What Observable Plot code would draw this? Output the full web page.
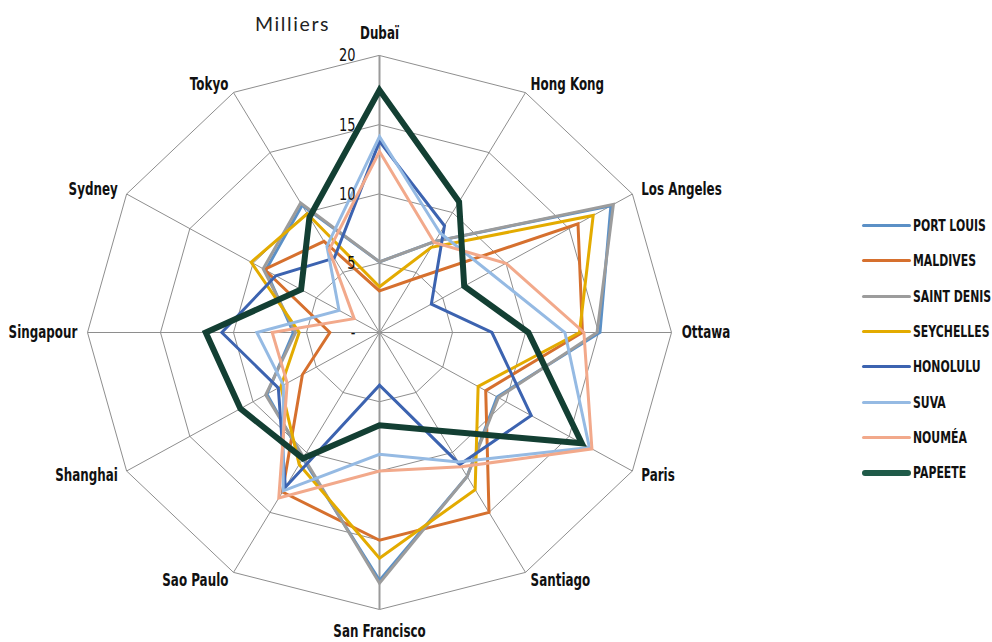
<!DOCTYPE html>
<html>
<head>
<meta charset="utf-8">
<script src="https://cdn.jsdelivr.net/npm/d3@7"></script>
<script src="https://cdn.jsdelivr.net/npm/@observablehq/plot@0.6"></script>
<style>
  html, body { margin: 0; padding: 0; background: #fff; }
  #wrap { position: relative; width: 992px; height: 642px; overflow: hidden; }
  #chart { position: absolute; left: 0; top: 0; }
  #unit { position: absolute; left: 255px; top: 12px; font-family: Lato, "Open Sans", sans-serif; font-weight: 400; font-size: 19.5px; color: #222; letter-spacing: 1.6px; }
  #legend { position: absolute; left: 862px; top: 208px; font-family: "DejaVu Sans", sans-serif; font-weight: bold; font-size: 16.5px; color: #111; }
  .row { display: flex; align-items: center; height: 35.3px; white-space: nowrap; }
  .sw { width: 49px; border-radius: 3px; margin-right: 2px; flex: none; }
  .lt { display: inline-block; transform: scaleX(0.66); transform-origin: left center; }
</style>
</head>
<body>
<div id="wrap">
  <div id="chart"></div>
  <div id="unit">Milliers</div>
  <div id="legend"></div>
</div>
<script>
const categories = ["Dubaï","Hong Kong","Los Angeles","Ottawa","Paris","Santiago","San Francisco","Sao Paulo","Shanghai","Singapour","Sydney","Tokyo"];
const seriesNames = ["PORT LOUIS","MALDIVES","SAINT DENIS","SEYCHELLES","HONOLULU","SUVA","NOUMÉA","PAPEETE"];
const seriesColors = ["#5b90c6","#d6702e","#9c9c9c","#e3ab00","#3c63b0","#95bae3","#f2a98b","#133f33"];
const portLouis  = [5.1, 7.6, 18.3, 15.1, 9.3, 12.0, 17.9, 10.5, 8.9, 5.9, 9.0, 10.6];
const maldives   = [3.0, 4.4, 15.7, 13.9, 8.4, 15.0, 15.0, 13.3, 6.1, 3.4, 9.1, 7.6];
const saintDenis = [5.1, 7.6, 18.5, 14.9, 9.4, 12.0, 18.1, 10.4, 9.0, 5.75, 9.2, 10.8];
const seychelles = [3.3, 7.1, 16.9, 13.7, 7.8, 13.1, 16.3, 11.0, 7.8, 5.5, 10.15, 9.9];
const honolulu   = [13.8, 8.9, 4.1, 7.7, 12.0, 11.0, 3.8, 12.9, 8.0, 10.8, 8.2, 6.2];
const suva       = [14.15, 8.3, 8.7, 12.7, 16.6, 10.8, 8.8, 13.2, 7.6, 8.4, 3.2, 7.2];
const noumea     = [13.07, 7.5, 10.0, 14.0, 16.8, 11.2, 10.0, 13.8, 7.3, 7.35, 2.0, 6.9];
const papeete    = [17.5, 10.9, 6.7, 10.2, 16.0, 8.2, 6.7, 10.5, 11.0, 11.9, 6.2, 9.6];
const tickValues = [0, 5, 10, 15, 20];
const tickLabels = ["-", "5", "10", "15", "20"];

const seriesValues = [portLouis, maldives, saintDenis, seychelles, honolulu, suva, noumea, papeete];
const N = categories.length;
const maxV = 20;
const ang = i => i * 2 * Math.PI / N;

const seriesData = [];
seriesNames.forEach((name, s) => {
  seriesValues[s].forEach((v, i) => {
    seriesData.push({series: name, order: s, x: v * Math.sin(ang(i)), y: v * Math.cos(ang(i))});
  });
});
const gridData = [];
tickValues.filter(t => t > 0).forEach(t => {
  for (let i = 0; i < N; i++) gridData.push({level: t, x: t * Math.sin(ang(i)), y: t * Math.cos(ang(i))});
});
const spokes = categories.map((c, i) => ({i, x: maxV * Math.sin(ang(i)), y: maxV * Math.cos(ang(i))}));
const labels = categories.map((c, i) => {
  const s = Math.sin(ang(i));
  const r = Math.abs(s) < 0.1 ? maxV * 1.08 : maxV * 1.035;
  return {name: c, s, x: r * s, y: r * Math.cos(ang(i))};
});
const ticks = tickValues.map((t, k) => ({x: 0, y: t, label: tickLabels[k]}));

const labelFont = "'DejaVu Sans', sans-serif";
const gridColor = "#8e8e8e";
const catStyle = {x: "x", y: "y", text: "name", fontSize: 17.5, fontWeight: "bold", fontFamily: labelFont, fill: "#111", className: "cat"};

const plot = Plot.plot({
  width: 992,
  height: 642,
  margin: 0,
  x: {domain: [-20, 20], range: [87, 671], axis: null},
  y: {domain: [-20, 20], range: [609, 55], axis: null},
  color: {domain: seriesNames, range: seriesColors},
  marks: [
    Plot.line(gridData, {x: "x", y: "y", z: "level", curve: "linear-closed", stroke: gridColor, strokeWidth: 1}),
    Plot.link(spokes.filter(d => d.i !== 0 && d.i !== 6), {x1: 0, y1: 0, x2: "x", y2: "y", stroke: gridColor, strokeWidth: 1}),
    Plot.link(spokes.filter(d => d.i === 0 || d.i === 6), {x1: 0, y1: 0, x2: "x", y2: "y", stroke: "#9a9a9a", strokeWidth: 2}),
    Plot.line(seriesData.filter(d => d.series !== "PAPEETE"), {x: "x", y: "y", z: "series", stroke: "series", curve: "linear-closed", strokeWidth: 3, strokeLinejoin: "miter", strokeMiterlimit: 6}),
    Plot.line(seriesData.filter(d => d.series === "PAPEETE"), {x: "x", y: "y", z: "series", stroke: "series", curve: "linear-closed", strokeWidth: 6, strokeLinejoin: "miter", strokeMiterlimit: 6}),
    Plot.text(ticks, {x: "x", y: "y", text: "label", textAnchor: "end", dx: -24, fontSize: 18, fontFamily: labelFont, fill: "#111", className: "tick"}),
    Plot.text(labels.filter(d => d.s > 0.1), {...catStyle, textAnchor: "start"}),
    Plot.text(labels.filter(d => d.s < -0.1), {...catStyle, textAnchor: "end"}),
    Plot.text(labels.filter(d => Math.abs(d.s) <= 0.1), {...catStyle, textAnchor: "middle"})
  ]
});
document.getElementById("chart").appendChild(plot);

// condense label glyphs to mimic the narrow typeface of the original
function condense(selector, factor) {
  plot.querySelectorAll(selector).forEach(t => {
    const w = t.getComputedTextLength();
    t.setAttribute("textLength", (w * factor).toFixed(1));
    t.setAttribute("lengthAdjust", "spacingAndGlyphs");
  });
}
condense(".cat text", 0.68);
condense(".tick text", 0.72);

const legend = document.getElementById("legend");
seriesNames.forEach((name, s) => {
  const row = document.createElement("div");
  row.className = "row";
  const sw = document.createElement("div");
  sw.className = "sw";
  sw.style.background = s === 7 ? "#1f5a48" : seriesColors[s];
  sw.style.height = (s === 7 ? 6 : 3) + "px";
  const tx = document.createElement("span");
  tx.className = "lt";
  tx.textContent = name;
  row.appendChild(sw);
  row.appendChild(tx);
  legend.appendChild(row);
});
</script>
</body>
</html>
